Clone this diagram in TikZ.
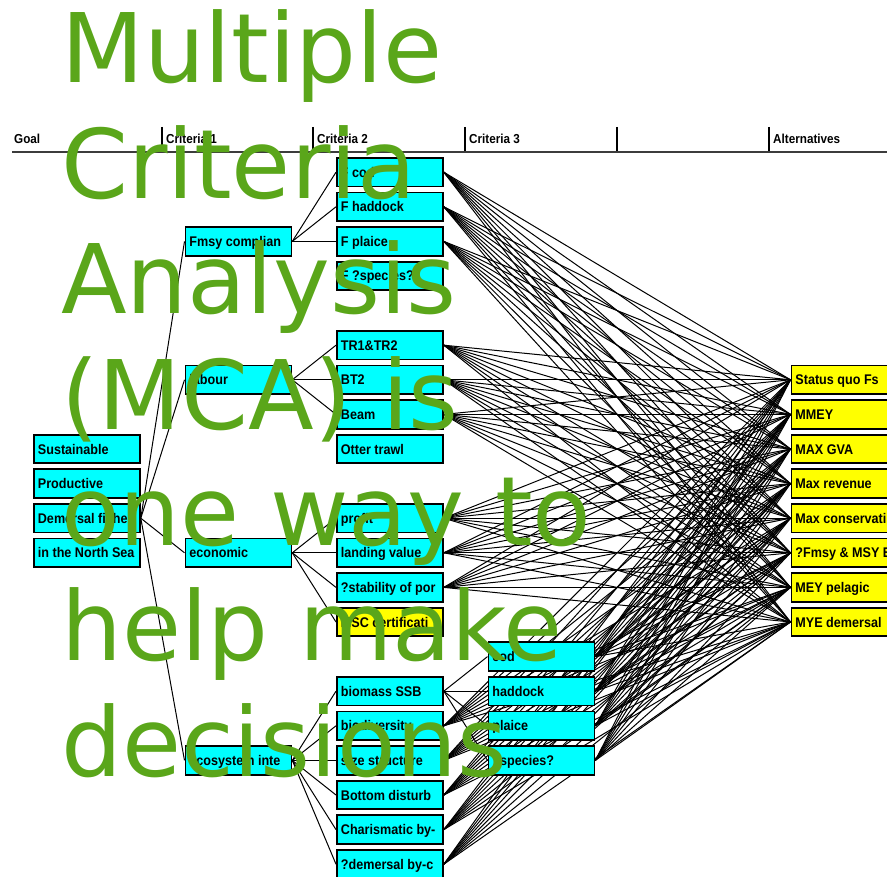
\documentclass[tikz,border=0pt]{standalone}
\usepackage{fontspec}
\newfontfamily\lblfont[FakeStretch=0.9]{Liberation Sans}
\newfontfamily\titlefont{DejaVu Sans}
\definecolor{titlegreen}{RGB}{90,166,26}
\definecolor{boxcyan}{RGB}{0,255,255}
\definecolor{boxyellow}{RGB}{255,255,0}
\definecolor{rulegray}{RGB}{60,60,60}
\pgfdeclarelayer{links}
\pgfsetlayers{links,main}
% fixed-width, left-aligned label that never wraps
\newcommand{\boxtext}[1]{\makebox[98pt][l]{#1}}

\begin{document}
\begin{tikzpicture}[x=1pt,y=-1pt,
  box/.style={draw=black, line width=1.8pt, fill=boxcyan, anchor=north west,
    minimum width=106pt, minimum height=28.6pt, inner xsep=4pt, inner ysep=0pt,
    text height=10pt, text depth=0pt,
    font=\lblfont\bfseries\fontsize{14}{16}\selectfont},
  ybox/.style={box, fill=boxyellow},
  link/.style={line width=1pt, draw=black},
  hdr/.style={anchor=base west, inner sep=0pt,
    font=\lblfont\bfseries\fontsize{13}{15}\selectfont},
  ttl/.style={anchor=base west, inner sep=0pt, text=titlegreen,
    font=\titlefont\fontsize{96}{115}\selectfont}]

\useasboundingbox (0,0) rectangle (887,877);

% column header
\draw[rulegray, line width=2.5pt] (12,152) -- (887,152);
\foreach \sx in {162,313,465,617,769}
  \draw[black, line width=1.2pt] (\sx,127) -- (\sx,151);
\node[hdr] (hgoal) at (14,144) {Goal};
\node[hdr] (hc1) at (166,144) {Criteria 1};
\node[hdr] (hc2) at (317,144) {Criteria 2};
\node[hdr] (hc3) at (469,144) {Criteria 3};
\node[hdr] (halt) at (773,144) {Alternatives};

% goal
\node[box] (g1) at (33,433.8) {\boxtext{Sustainable}};
\node[box] (g2) at (33,468.4) {\boxtext{Productive}};
\node[box] (g3) at (33,503)   {\boxtext{Demersal fishe}};
\node[box] (g4) at (33,537.6) {\boxtext{in the North Sea}};

% criteria 1
\node[box] (fmsy)   at (184.5,226.2) {\boxtext{Fmsy complian}};
\node[box] (labour) at (184.5,364.6) {\boxtext{labour}};
\node[box] (econ)   at (184.5,537.6) {\boxtext{economic}};
\node[box] (eco)    at (184.5,745.2) {\boxtext{ecosystem inte}};

% criteria 2
\node[box] (fcod)   at (336,157)   {\boxtext{F cod}};
\node[box] (fhad)   at (336,191.6) {\boxtext{F haddock}};
\node[box] (fpla)   at (336,226.2) {\boxtext{F plaice}};
\node[box] (fspe)   at (336,260.8) {\boxtext{F ?species?}};
\node[box] (tr1)    at (336,330)   {\boxtext{TR1\&TR2}};
\node[box] (bt2)    at (336,364.6) {\boxtext{BT2}};
\node[box] (beam)   at (336,399.2) {\boxtext{Beam}};
\node[box] (otter)  at (336,433.8) {\boxtext{Otter trawl}};
\node[box] (profit) at (336,503)   {\boxtext{profit}};
\node[box] (landv)  at (336,537.6) {\boxtext{landing value}};
\node[box] (stab)   at (336,572.2) {\boxtext{?stability of por}};
\node[ybox] (msc)   at (336,606.8) {\boxtext{MSC certificati}};
\node[box] (ssb)    at (336,676)   {\boxtext{biomass SSB}};
\node[box] (biod)   at (336,710.6) {\boxtext{biodiversity}};
\node[box] (size)   at (336,745.2) {\boxtext{size structure}};
\node[box] (bottom) at (336,779.8) {\boxtext{Bottom disturb}};
\node[box] (charis) at (336,814.4) {\boxtext{Charismatic by-}};
\node[box] (dem)    at (336,849)   {\boxtext{?demersal by-c}};

% criteria 3
\node[box] (cod) at (487.5,641.4) {\boxtext{cod}};
\node[box] (had) at (487.5,676)   {\boxtext{haddock}};
\node[box] (pla) at (487.5,710.6) {\boxtext{plaice}};
\node[box] (spe) at (487.5,745.2) {\boxtext{?species?}};

% alternatives
\node[ybox] (a1) at (790.5,364.6) {\boxtext{Status quo Fs}};
\node[ybox] (a2) at (790.5,399.2) {\boxtext{MMEY}};
\node[ybox] (a3) at (790.5,433.8) {\boxtext{MAX GVA}};
\node[ybox] (a4) at (790.5,468.4) {\boxtext{Max revenue}};
\node[ybox] (a5) at (790.5,503)   {\boxtext{Max conservati}};
\node[ybox] (a6) at (790.5,537.6) {\boxtext{?Fmsy \& MSY E}};
\node[ybox] (a7) at (790.5,572.2) {\boxtext{MEY pelagic}};
\node[ybox] (a8) at (790.5,606.8) {\boxtext{MYE demersal}};

% hierarchy links, kept underneath the boxes
\begin{pgfonlayer}{links}
  \foreach \n in {fmsy,labour,econ,eco}
    \draw[link] (g3.east) -- (\n.west);
  \foreach \n in {fcod,fhad,fpla}
    \draw[link] (fmsy.east) -- (\n.west);
  \foreach \n in {tr1,bt2,beam}
    \draw[link] (labour.east) -- (\n.west);
  \foreach \n in {profit,landv,stab,msc}
    \draw[link] (econ.east) -- (\n.west);
  \foreach \n in {ssb,biod,size,bottom,charis,dem}
    \draw[link] (eco.east) -- (\n.west);
  \foreach \n in {cod,had,pla,spe}
    \draw[link] (ssb.east) -- (\n.west);
  % every leaf criterion is scored against every alternative
  \foreach \l in {fcod,fhad,fpla,tr1,bt2,beam,profit,landv,stab,biod,size,bottom,charis,dem,cod,had,pla,spe}
    \foreach \a in {1,...,8}
      \draw[link] (\l.east) -- (a\a.west);
\end{pgfonlayer}

% slide title set over the diagram
\node[ttl] (t1) at (61,83)    {Multiple};
\node[ttl] (t2) at (61,198.5) {Criteria};
\node[ttl] (t3) at (61,314)   {Analysis};
\node[ttl] (t4) at (61,429.5) {(MCA) is};
\node[ttl] (t5) at (61,545)   {one way to};
\node[ttl] (t6) at (61,660.5) {help make};
\node[ttl] (t7) at (61,776)   {decisions};
\end{tikzpicture}
\end{document}
